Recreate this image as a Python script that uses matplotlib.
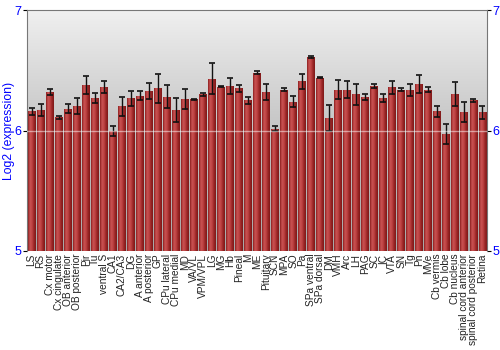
import numpy as np
import matplotlib
matplotlib.use('Agg')
import matplotlib.pyplot as plt
from matplotlib.colors import LinearSegmentedColormap

plt.rcParams['font.family'] = ['Liberation Sans', 'DejaVu Sans']

regions = ['LS', 'RS', 'Cx motor', 'Cx cingulate', 'OB anterior', 'OB posterior', 'Pir', 'Tu',
           'ventral S', 'CA1', 'CA2/CA3', 'DG', 'A anterior', 'A posterior', 'GP', 'CPu lateral',
           'CPu medial', 'MD', 'VA/VL', 'VPM/VPL', 'LG', 'MG', 'Hb', 'Pineal', 'M', 'ME',
           'Pituitary', 'SCN', 'MPA', 'SO', 'Pa', 'SPa ventral', 'SPa dorsal', 'DM', 'VMH', 'Arc',
           'LH', 'PAG', 'SC', 'IC', 'VTA', 'SN', 'Tg', 'Pn', 'MVe', 'Cb vermis', 'Cb lobe',
           'Cb nucleus', 'spinal cord anterior', 'spinal cord posterior', 'Retina']
expression = [6.16, 6.17, 6.32, 6.11, 6.18, 6.205, 6.38, 6.27,
              6.36, 5.997, 6.20, 6.27, 6.29, 6.33, 6.35, 6.28,
              6.17, 6.26, 6.26, 6.30, 6.43, 6.365, 6.37, 6.35, 6.25, 6.48,
              6.32, 6.014, 6.34, 6.24, 6.41, 6.61, 6.44, 6.105, 6.34, 6.34,
              6.30, 6.28, 6.37, 6.27, 6.36, 6.34, 6.34, 6.385, 6.34, 6.16, 5.975,
              6.30, 6.15, 6.25, 6.15]
errors = [0.03, 0.048, 0.028, 0.01, 0.037, 0.066, 0.076, 0.041,
          0.048, 0.039, 0.08, 0.062, 0.036, 0.065, 0.119, 0.095,
          0.10, 0.082, 0.005, 0.015, 0.13, 0.005, 0.066, 0.032, 0.029, 0.014,
          0.066, 0.021, 0.014, 0.046, 0.062, 0.008, 0.005, 0.11, 0.079, 0.069,
          0.084, 0.026, 0.017, 0.032, 0.055, 0.015, 0.05, 0.076, 0.021, 0.044, 0.083,
          0.10, 0.083, 0.011, 0.053]
yticks = [5, 6, 7]

fig = plt.figure(figsize=(5, 3.5), dpi=100)
ax = fig.add_axes([0.054, 0.283, 0.92, 0.688])

x = np.arange(len(regions))
ax.set_xlim(-0.5, len(regions) - 0.5)
ax.set_ylim(5, 7)

# background gradient, light at the top
bg = LinearSegmentedColormap.from_list('bg', ['#a8a8a8', '#c4c4c4', '#f0f0f0'])
ax.imshow(np.linspace(0, 1, 256).reshape(-1, 1), cmap=bg, aspect='auto',
          extent=(-0.5, len(regions) - 0.5, 5, 7), origin='lower', zorder=0)

bars = ax.bar(x, np.array(expression) - 5, bottom=5, width=0.88, color='#b03434',
              edgecolor='none', zorder=2)

# shaded bars
shade = LinearSegmentedColormap.from_list('shade', ['#8c1e1e', '#c85252', '#c04444', '#9a2626', '#7e1818'])
grad = np.linspace(0, 1, 64).reshape(1, -1)
for b in bars:
    x0, y0 = b.get_x(), b.get_y()
    im = ax.imshow(grad, cmap=shade, aspect='auto', zorder=2.5,
                   extent=(x0, x0 + b.get_width(), y0, y0 + b.get_height()))
    im.set_clip_path(b)

ax.errorbar(x, expression, yerr=errors, fmt='none', ecolor='#111111', elinewidth=1,
            capsize=2.5, capthick=1.2, zorder=4)

ax.axhline(6, color='white', lw=1, alpha=0.5, zorder=5)

ax.set_xticks(x)
ax.set_xticklabels(regions, rotation=90, fontsize=7.3, color='#222222')
ax.tick_params(axis='x', length=0, pad=2)
ax.set_yticks(yticks)
ax.tick_params(axis='y', colors='black', labelcolor='blue', labelsize=9, length=3,
               right=True, labelright=True, pad=1)
ax.set_ylabel('Log2 (expression)', color='blue', fontsize=8.8)
ax.yaxis.set_label_coords(-0.025, 0.5)

for side in ['left', 'right', 'top']:
    ax.spines[side].set_color('#777777')
ax.spines['bottom'].set_visible(False)

fig.savefig('out.png', dpi=100)
